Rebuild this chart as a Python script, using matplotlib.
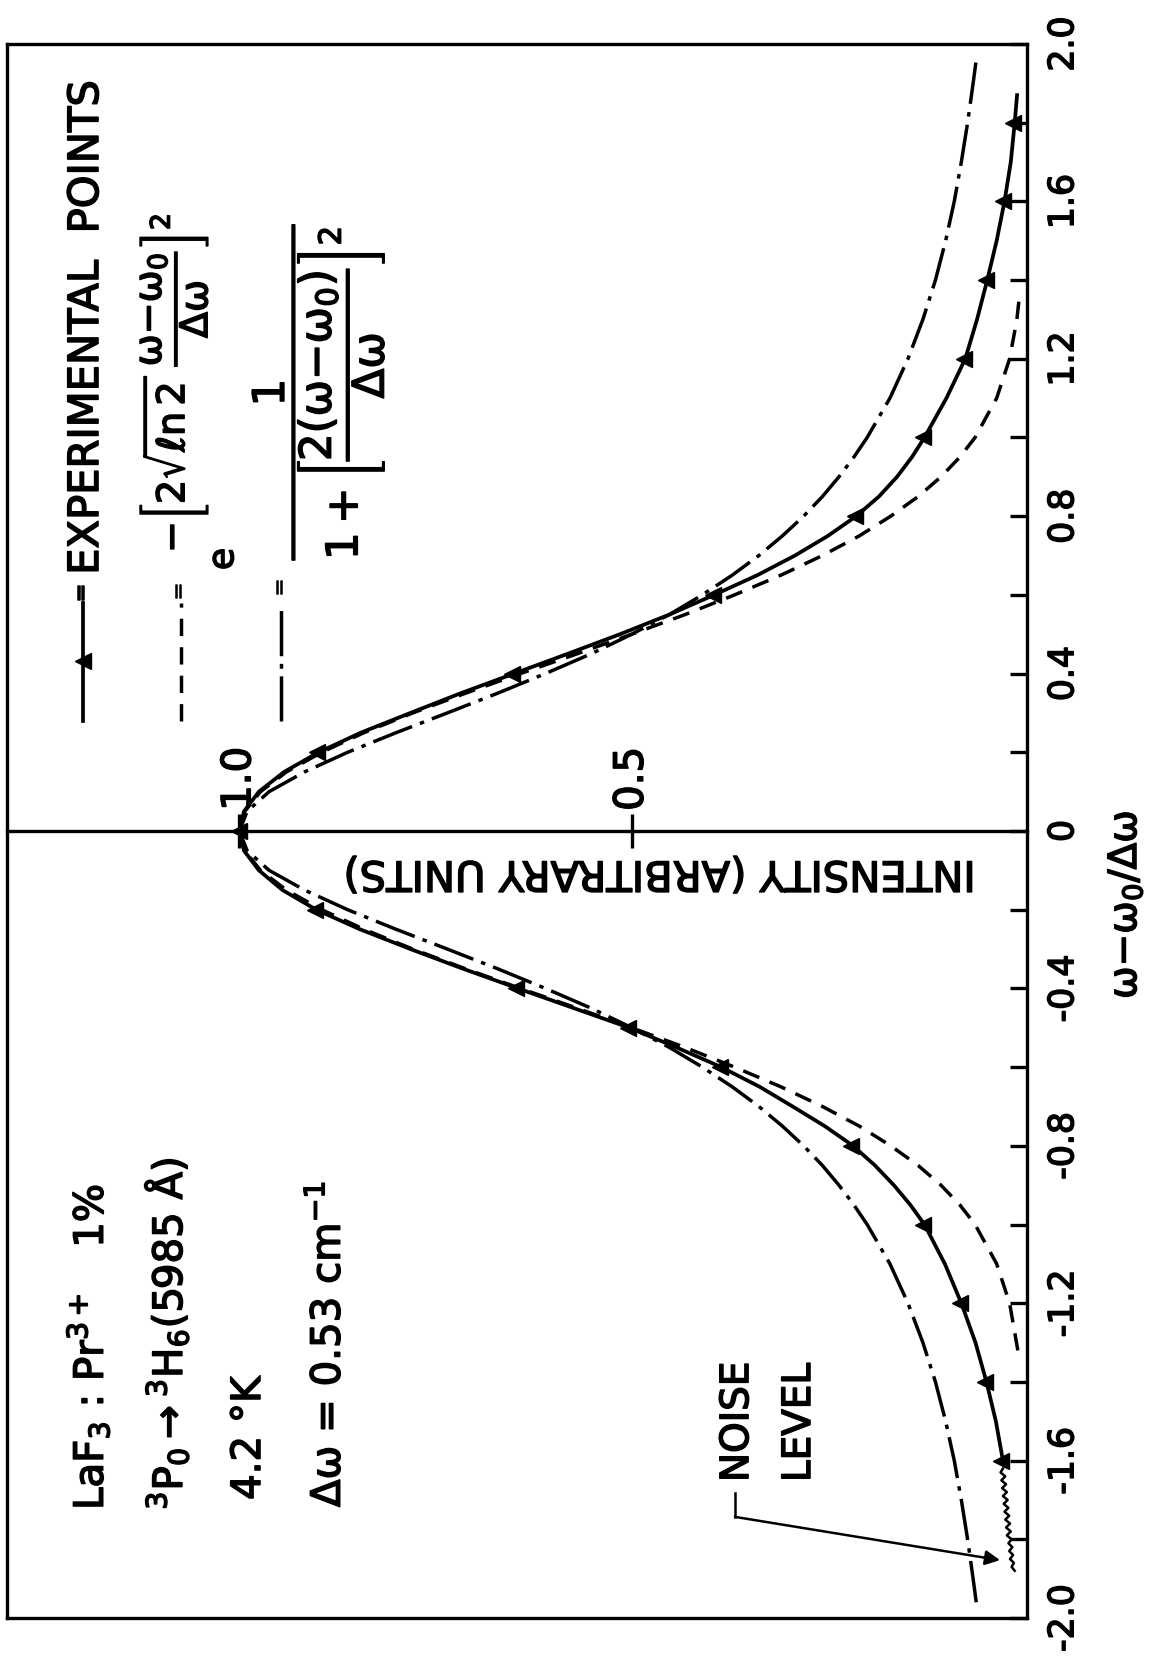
"""LaF3:Pr3+ line shape vs Gaussian and Lorentzian (page rotated 90 deg)"""
import matplotlib
matplotlib.use('Agg')
import matplotlib.pyplot as plt
import matplotlib.patheffects as pe

plt.rcParams['font.family'] = ['DejaVu Sans']
plt.rcParams['mathtext.fontset'] = 'dejavusans'

# solid line through the experimental points: (w - w0)/dw and intensity
curve_w = [-1.6, -1.5, -1.4, -1.3, -1.2, -1.1, -1.0, -0.95, -0.9, -0.85, -0.8, -0.75, -0.7, -0.65, -0.6,
           -0.55, -0.5, -0.45, -0.4, -0.35, -0.3, -0.25, -0.2, -0.15, -0.1, -0.05, 0.0, 0.05, 0.1, 0.15,
           0.2, 0.25, 0.3, 0.35, 0.4, 0.45, 0.5, 0.55, 0.6, 0.65, 0.7, 0.75, 0.8, 0.85, 0.9, 0.95, 1.0,
           1.1, 1.2, 1.3, 1.4, 1.5, 1.6, 1.7, 1.8, 1.87]
curve_i = [0.027, 0.036, 0.048, 0.062, 0.080, 0.101, 0.127, 0.145, 0.166, 0.190, 0.218, 0.254, 0.295, 0.337, 0.386,
           0.443, 0.503, 0.574, 0.645, 0.715, 0.782, 0.846, 0.902, 0.945, 0.975, 0.994, 1.0, 0.994, 0.975, 0.943,
           0.899, 0.845, 0.782, 0.718, 0.650, 0.582, 0.515, 0.452, 0.395, 0.340, 0.292, 0.250, 0.214, 0.185,
           0.162, 0.143, 0.127, 0.099, 0.075, 0.060, 0.047, 0.035, 0.025, 0.017, 0.012, 0.009]

# experimental points (triangles)
pts_w = [-1.6, -1.4, -1.2, -1.0, -0.8, -0.6, -0.5, -0.4, -0.2, 0.0, 0.2, 0.4, 0.6, 0.8, 1.0, 1.2, 1.4, 1.6, 1.8]
pts_i = [0.029, 0.050, 0.082, 0.129, 0.220, 0.388, 0.505, 0.647, 0.904, 1.0, 0.901, 0.652, 0.397,
         0.216, 0.129, 0.077, 0.049, 0.027, 0.014]

# noise at the low-frequency end
noise_w = [-1.62, -1.63, -1.64, -1.65, -1.66, -1.67, -1.68, -1.69, -1.70, -1.71, -1.72, -1.73, -1.74, -1.75,
           -1.76, -1.77, -1.78, -1.79, -1.80, -1.81, -1.82, -1.83, -1.84, -1.85, -1.86, -1.87, -1.88]
noise_i = [0.027, 0.030, 0.024, 0.029, 0.023, 0.028, 0.022, 0.027, 0.021, 0.026, 0.020, 0.025, 0.019, 0.024,
           0.018, 0.023, 0.017, 0.022, 0.016, 0.020, 0.015, 0.019, 0.014, 0.018, 0.013, 0.016, 0.012]

# dashed curve (Gaussian)
gauss_w = [-1.32, -1.2, -1.1, -1.0, -0.95, -0.9, -0.85, -0.8, -0.75, -0.7, -0.65, -0.6, -0.55, -0.5,
           -0.45, -0.4, -0.35, -0.3, -0.25, -0.2, -0.15, -0.1, -0.05, 0.0, 0.05, 0.1, 0.15, 0.2, 0.25,
           0.3, 0.35, 0.4, 0.45, 0.5, 0.55, 0.6, 0.65, 0.7, 0.75, 0.8, 0.85, 0.9, 0.95, 1.0, 1.1, 1.2,
           1.3, 1.36]
gauss_i = [0.008, 0.0185, 0.035, 0.0625, 0.082, 0.106, 0.135, 0.170, 0.210, 0.257, 0.310, 0.369, 0.432, 0.5,
           0.570, 0.642, 0.712, 0.779, 0.841, 0.895, 0.940, 0.973, 0.993, 1.0, 0.993, 0.973, 0.940, 0.895, 0.841,
           0.779, 0.712, 0.642, 0.570, 0.5, 0.432, 0.369, 0.310, 0.257, 0.210, 0.170, 0.135, 0.106, 0.082, 0.0625,
           0.035, 0.0185, 0.0092, 0.006]

# dash-dot curve (Lorentzian)
lor_w = [-1.96, -1.9, -1.8, -1.7, -1.6, -1.5, -1.4, -1.3, -1.2, -1.1, -1.0, -0.95, -0.9, -0.85, -0.8,
         -0.75, -0.7, -0.65, -0.6, -0.55, -0.5, -0.45, -0.4, -0.35, -0.3, -0.25, -0.2, -0.15, -0.1, -0.05,
         0.0, 0.05, 0.1, 0.15, 0.2, 0.25, 0.3, 0.35, 0.4, 0.45, 0.5, 0.55, 0.6, 0.65, 0.7, 0.75, 0.8, 0.85,
         0.9, 0.95, 1.0, 1.1, 1.2, 1.3, 1.4, 1.5, 1.6, 1.7, 1.8, 1.9, 1.96]
lor_i = [0.061, 0.065, 0.072, 0.080, 0.089, 0.100, 0.113, 0.129, 0.148, 0.171, 0.200, 0.217, 0.236, 0.257, 0.281,
         0.308, 0.338, 0.372, 0.410, 0.452, 0.5, 0.552, 0.610, 0.671, 0.735, 0.800, 0.862, 0.917, 0.962, 0.990,
         1.0, 0.990, 0.962, 0.917, 0.862, 0.800, 0.735, 0.671, 0.610, 0.552, 0.5, 0.452, 0.410, 0.372, 0.338,
         0.308, 0.281, 0.257, 0.236, 0.217, 0.200, 0.171, 0.148, 0.129, 0.113, 0.100, 0.089, 0.080, 0.072,
         0.065, 0.061]

w_major = [-2.0, -1.6, -1.2, -0.8, -0.4, 0.0, 0.4, 0.8, 1.2, 1.6, 2.0]
w_labels = ['-2.0', '-1.6', '-1.2', '-0.8', '-0.4', '0', '0.4', '0.8', '1.2', '1.6', '2.0']
w_minor = [-1.8, -1.4, -1.0, -0.6, -0.2, 0.2, 0.6, 1.0, 1.4, 1.8]
i_ticks = [0.5, 1.0]
i_labels = ['0.5', '1.0']

THICK = [pe.withStroke(linewidth=1.1, foreground='black')]
LW = 2.7

fig = plt.figure(figsize=(11.57, 16.62), dpi=100)
ax = fig.add_axes([0.00605, 0.02647, 0.88202, 0.94706])
ax.set_xlim(1.296, -0.0043)
ax.set_ylim(-2.0, 2.0)

ax.plot(lor_i, lor_w, color='k', lw=2.5, dashes=(12, 2.4, 1.3, 2.4))
ax.plot(gauss_i, gauss_w, color='k', lw=2.5, dashes=(5, 3.2))
ax.plot(curve_i, curve_w, color='k', lw=LW)
ax.plot(noise_i, noise_w, color='k', lw=1.8)
ax.plot(pts_i, pts_w, ls='none', marker='<', ms=12, color='k', zorder=5)

for s in ax.spines.values():
    s.set_linewidth(2.4)
ax.set_xticks([])
ax.yaxis.tick_right()
ax.set_yticks(w_major)
ax.set_yticks(w_minor, minor=True)
ax.set_yticklabels(w_labels, rotation=90, va='center', fontsize=25)
ax.tick_params(axis='y', which='both', direction='in', length=12.5, width=2.4, pad=13.5,
               right=True, left=False)
for t in ax.get_yticklabels():
    t.set_path_effects(THICK)

ax.set_ylabel(r'$\mathrm{\omega{-}\omega_0/\Delta\omega}$', fontsize=28, rotation=90)
ax.yaxis.set_label_position('right')
ax.yaxis.label.set_va('center')
ax.yaxis.set_label_coords(1.0956, 0.453)
ax.yaxis.label.set_path_effects(THICK)

# intensity scale drawn on the w = 0 line
sec = ax.secondary_xaxis(0.5)
sec.spines['top'].set_linewidth(2.4)
sec.set_xticks(i_ticks)
sec.set_xticklabels(i_labels, rotation=90, fontsize=29)
sec.tick_params(axis='x', direction='inout', length=25, width=2.4, pad=2)
for t in sec.get_xticklabels():
    t.set_path_effects(THICK)

ax.text(0.4646, -0.108, 'INTENSITY (ARBITRARY UNITS)', rotation=180, ha='center', va='center',
        fontsize=30, path_effects=THICK)


def vtext(i, w, s, size, ha='left', va='baseline'):
    return ax.text(i, w, s, fontsize=size, rotation=90, rotation_mode='anchor', ha=ha, va=va,
                   path_effects=THICK)


def fit_length(t, target_px):
    # scale a rotated text so that its length on the page matches the reference
    fig.canvas.draw()
    h = t.get_window_extent(fig.canvas.get_renderer()).height
    t.set_fontsize(t.get_fontsize() * target_px / h)


# key
ax.plot([1.199, 1.199], [0.280, 0.579], color='k', lw=LW)
ax.plot([1.199], [0.432], marker='<', ms=12, color='k')
ax.plot([1.074, 1.074], [0.280, 0.579], color='k', lw=2.5, dashes=(5, 3.2))
ax.plot([0.947, 0.947], [0.280, 0.579], color='k', lw=2.5, dashes=(13, 2.2, 1.4, 2.2))
for ki, kw in zip([1.2013, 1.0768, 0.9481], [0.605, 0.610, 0.618]):
    vtext(ki, kw, '=', 15, ha='center', va='center')
vtext(1.180, 0.651, 'EXPERIMENTAL  POINTS', 30)
vtext(1.0078, 0.663, 'e', 26)
gauss_txt = ax.text(1.0845, 1.1385,
                    r'$\mathrm{{-}\left[2\sqrt{\ell n\,2}\;\dfrac{\omega{-}\omega_0}{\Delta\omega}\right]^2}$',
                    fontsize=28, rotation=90, ha='center', va='center', path_effects=THICK)
lor_txt = ax.text(0.8991, 1.118,
                  r'$\mathrm{\dfrac{1}{1+\left[\dfrac{2(\omega{-}\omega_0)}{\Delta\omega}\right]^2}}$',
                  fontsize=28, rotation=90, ha='center', va='center', path_effects=THICK)
fit_length(gauss_txt, 340)
fit_length(lor_txt, 338)

# sample description
vtext(1.1736, -1.7255, r'LaF$_3$ : Pr$^{3+}$   1%', 29)
vtext(1.0730, -1.7255, r'$^3$P$_0$$\rightarrow$$^3$H$_6$(5985 Å)', 29)
vtext(0.9736, -1.700, '4.2 °K', 29)
vtext(0.8717, -1.718, r'Δω = 0.53 cm$^{-1}$', 29)

# noise level
vtext(0.3517, -1.6544, 'NOISE', 28)
vtext(0.2728, -1.6544, 'LEVEL', 28)
ax.plot([0.3684, 0.3684], [-1.682, -1.743], color='k', lw=1.8)
ax.annotate('', xy=(0.0307, -1.853), xytext=(0.3684, -1.743),
            arrowprops=dict(arrowstyle='-|>', color='k', lw=1.8, mutation_scale=22,
                            shrinkA=0, shrinkB=0))

fig.savefig('out.png', dpi=100, facecolor='white')
plt.close(fig)
